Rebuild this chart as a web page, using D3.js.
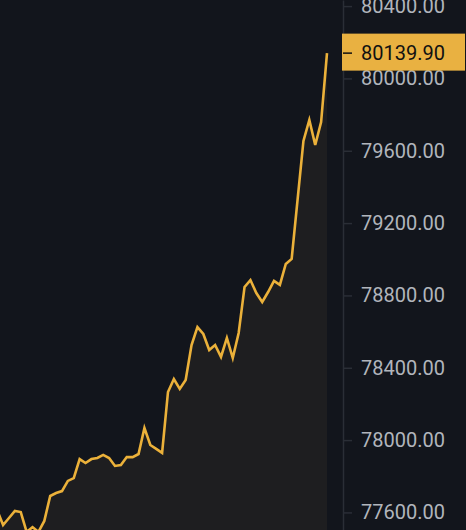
<!DOCTYPE html>
<html>
<head>
<meta charset="utf-8">
<script src="https://cdn.jsdelivr.net/npm/d3@7"></script>
<style>
  html, body { margin: 0; padding: 0; background: #12151c; overflow: hidden; }
  svg { display: block; }
</style>
</head>
<body>
<script>
// price samples, oldest first (last one is the live price)
const prices = [
  77613, 77530, 77569, 77608, 77602, 77492, 77519, 77492, 77553, 77691,
  77707, 77718, 77774, 77790, 77895, 77873, 77895, 77901, 77918, 77901,
  77857, 77862, 77906, 77906, 77923, 78067, 77973, 77951, 77929, 78266,
  78338, 78283, 78332, 78526, 78625, 78587, 78498, 78526, 78460, 78565,
  78454, 78592, 78847, 78885, 78813, 78764, 78819, 78880, 78858, 78974,
  79002, 79328, 79654, 79770, 79632, 79759, 80139.90
]
const tickValues = [77600, 78000, 78400, 78800, 79200, 79600, 80000, 80400]
const lastPrice = prices[prices.length - 1]

const width = 466, height = 530
const axisX = 343

const x = d3.scaleLinear()
  .domain([0, prices.length - 1])
  .range([-2.8, 327])

const y = d3.scaleLinear()
  .domain([77502.8, 80433.7])
  .range([height, 0])

const svg = d3.select("body").append("svg")
  .attr("width", width)
  .attr("height", height)

svg.append("rect")
  .attr("width", width)
  .attr("height", height)
  .attr("fill", "#12151c")

const area = d3.area()
  .x((d, i) => x(i))
  .y0(height)
  .y1(d => y(d))

const line = d3.line()
  .x((d, i) => x(i))
  .y(d => y(d))

svg.append("path")
  .datum(prices)
  .attr("fill", "#1e1e20")
  .attr("d", area)

svg.append("path")
  .datum(prices)
  .attr("fill", "none")
  .attr("stroke", "#ebb13a")
  .attr("stroke-width", 2.6)
  .attr("stroke-linejoin", "miter")
  .attr("d", line)

// right price axis
const yAxis = g => g
  .attr("transform", `translate(${axisX},0)`)
  .call(d3.axisRight(y)
    .tickValues(tickValues)
    .tickFormat(d3.format(".2f"))
    .tickSize(9)
    .tickSizeOuter(0)
    .tickPadding(9))
  .call(g => g.select(".domain").attr("stroke", "#2a2e36").attr("stroke-width", 1.5))
  .call(g => g.selectAll(".tick line").attr("stroke", "#2a2e36").attr("stroke-width", 1.5))
  .call(g => g.selectAll(".tick text")
    .attr("fill", "#b1b5bc")
    .attr("font-family", "Roboto, sans-serif")
    .attr("font-size", 20))

svg.append("g").call(yAxis)

// current price tag
const tag = svg.append("g")
  .attr("transform", `translate(${axisX},${y(lastPrice)})`)

tag.append("rect")
  .attr("x", -1)
  .attr("y", -19.5)
  .attr("width", 123)
  .attr("height", 37)
  .attr("fill", "#e9b141")

tag.append("line")
  .attr("x1", 0)
  .attr("x2", 9)
  .attr("stroke", "#111")
  .attr("stroke-width", 1.5)

tag.append("text")
  .attr("x", 18)
  .attr("dy", "0.32em")
  .attr("fill", "#111")
  .attr("font-family", "Roboto, sans-serif")
  .attr("font-size", 20)
  .text(d3.format(".2f")(lastPrice))
</script>
</body>
</html>
